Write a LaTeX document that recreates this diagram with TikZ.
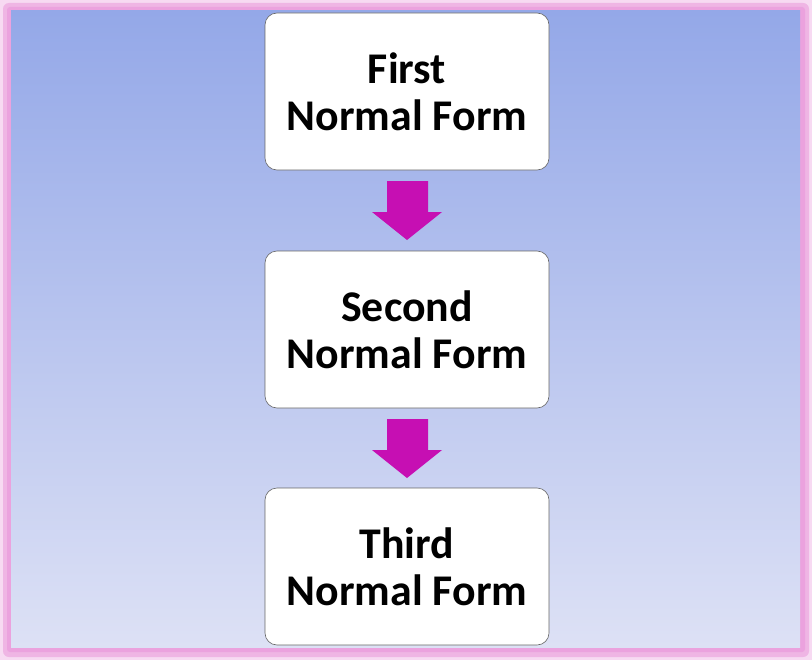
\documentclass[tikz,border=0pt]{standalone}
\usepackage{fontspec}
\setmainfont{Carlito}
\definecolor{bgtop}{HTML}{94A8E8}
\definecolor{bgbot}{HTML}{DDE1F5}
\definecolor{glow}{HTML}{EBA2DE}
\definecolor{arr}{HTML}{C60FB3}
\begin{document}
\begin{tikzpicture}[x=1bp,y=-1bp,
  stagebox/.style={draw=gray!80!black,line width=0.6bp,fill=white,rounded corners=12bp,minimum width=284bp,minimum height=157bp,align=center,font=\fontsize{44}{47}\selectfont\bfseries,inner sep=0pt}]
\useasboundingbox (0,0) rectangle (812,660);
\fill[white] (0,0) rectangle (812,660);
\fill[glow!40] (0,0) rectangle (812,660);
\fill[glow!80, rounded corners=6bp] (3,3) rectangle (809,657);
\fill[glow, rounded corners=3bp] (7,7) rectangle (805,652);
\shade[top color=bgtop,bottom color=bgbot] (11,11) rectangle (800,647);
\begin{scope}
\clip (11,11) rectangle (800,647);
\node[stagebox] (a) at (407,91.5) {First\\Normal Form};
\node[stagebox] (b) at (407,329.5) {Second\\Normal Form};
\node[stagebox] (c) at (407,566.5) {Third\\Normal Form};
\end{scope}
\fill[arr] (387,181) -- (428,181) -- (428,212) -- (442,212) -- (407,240) -- (372,212) -- (387,212) -- cycle;
\fill[arr] (387,419) -- (428,419) -- (428,450) -- (442,450) -- (407,478) -- (372,450) -- (387,450) -- cycle;
\end{tikzpicture}
\end{document}
